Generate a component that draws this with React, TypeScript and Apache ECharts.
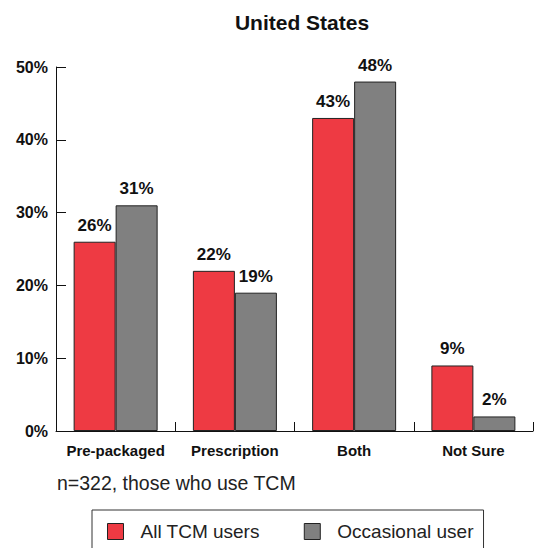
import React, { useEffect, useRef } from "react";
import * as echarts from "echarts";

const categories = ["Pre-packaged", "Prescription", "Both", "Not Sure"];
const allUsers = [26, 22, 43, 9];
const occasionalUsers = [31, 19, 48, 2];
const yTicks = [0, 10, 20, 30, 40, 50];
const seriesNames = ["All TCM users", "Occasional user"];
const titleText = "United States";
const noteText = "n=322, those who use TCM";

const FONT = "'Liberation Sans', Arial, sans-serif";

export default function App() {
  const ref = useRef<HTMLDivElement>(null);
  useEffect(() => {
    if (!ref.current) return;
    const chart = echarts.init(ref.current, undefined, { renderer: "svg" });
    const labelStyle = {
      show: true,
      position: "top" as const,
      distance: 8,
      formatter: "{c}%",
      fontFamily: FONT,
      fontWeight: "bold" as const,
      fontSize: 17,
      color: "#111",
    };
    chart.setOption({
      animation: false,
      backgroundColor: "#fff",
      textStyle: { fontFamily: FONT },
      title: [
        {
          text: titleText,
          left: 297,
          textAlign: "center",
          top: 7,
          textStyle: { fontFamily: FONT, fontWeight: "bold", fontSize: 21, color: "#111" },
        },
        {
          text: noteText,
          left: 52,
          top: 468,
          textStyle: { fontFamily: FONT, fontWeight: "normal", fontSize: 19.5, color: "#222" },
        },
      ],
      legend: {
        left: 92,
        top: 510,
        data: seriesNames,
        icon: "rect",
        itemWidth: 16,
        itemHeight: 16,
        itemGap: 44,
        padding: [12, 10, 24, 15],
        borderColor: "#333",
        borderWidth: 1,
        itemStyle: { borderColor: "#222", borderWidth: 1 },
        textStyle: {
          fontFamily: FONT,
          fontSize: 19,
          color: "#222",
          padding: [0, 0, 0, 12],
        },
      },
      grid: { left: 56, right: 5, top: 67, bottom: 117, containLabel: false },
      xAxis: {
        type: "category",
        data: categories,
        axisLine: { lineStyle: { color: "#111", width: 1 } },
        axisTick: { show: true, inside: true, length: 9, lineStyle: { color: "#111" } },
        axisLabel: {
          interval: 0,
          fontFamily: FONT,
          fontWeight: "bold",
          fontSize: 15,
          color: "#111",
          margin: 12,
        },
      },
      yAxis: {
        type: "value",
        min: yTicks[0],
        max: yTicks[yTicks.length - 1],
        interval: 10,
        splitLine: { show: false },
        axisLine: { show: true, lineStyle: { color: "#111", width: 1 } },
        axisTick: { show: true, inside: true, length: 10, lineStyle: { color: "#111" } },
        axisLabel: {
          formatter: "{value}%",
          fontFamily: FONT,
          fontWeight: "bold",
          fontSize: 16,
          color: "#111",
          margin: 8,
        },
      },
      series: [
        {
          name: seriesNames[0],
          type: "bar",
          data: allUsers,
          barWidth: 42,
          barGap: "0%",
          itemStyle: { color: "#ee3a43", borderColor: "#222", borderWidth: 1 },
          label: labelStyle,
        },
        {
          name: seriesNames[1],
          type: "bar",
          data: occasionalUsers,
          barWidth: 42,
          barGap: "0%",
          itemStyle: { color: "#808080", borderColor: "#222", borderWidth: 1 },
          label: labelStyle,
        },
      ],
    });
    return () => chart.dispose();
  }, []);
  return <div ref={ref} style={{ width: 538, height: 548, position: "absolute", left: 0, top: 0 }} />;
}
